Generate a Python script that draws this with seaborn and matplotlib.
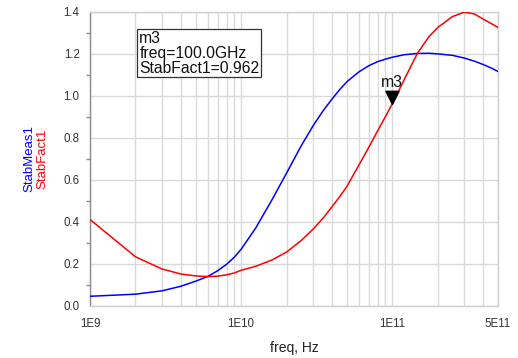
import matplotlib
matplotlib.use("Agg")
import matplotlib.pyplot as plt
from matplotlib.path import Path
from matplotlib.ticker import FixedLocator, LogLocator, NullFormatter, MultipleLocator
import numpy as np
import pandas as pd
import seaborn as sns

# Sweep frequencies (Hz) and stability results
freq = [1e9, 2e9, 3e9, 4e9, 5e9, 6e9, 7e9, 8e9, 9e9,
        1e10, 1.25e10, 1.6e10, 2e10, 2.5e10, 3e10, 3.5e10, 4e10, 4.5e10,
        5e10, 6e10, 7e10, 8e10, 9e10,
        1e11, 1.2e11, 1.46e11, 1.75e11, 2e11, 2.5e11, 3e11, 3.5e11, 4e11,
        4.5e11, 5e11]
stab_meas1 = [0.044, 0.054, 0.070, 0.092, 0.116, 0.138, 0.166, 0.196, 0.230,
              0.268, 0.370, 0.504, 0.632, 0.762, 0.858, 0.930, 0.985, 1.030,
              1.066, 1.113, 1.143, 1.162, 1.174,
              1.183, 1.195, 1.201, 1.202, 1.199, 1.192, 1.179, 1.164, 1.148,
              1.132, 1.115]
stab_fact1 = [0.410, 0.232, 0.174, 0.150, 0.141, 0.138, 0.140, 0.146, 0.155,
              0.168, 0.187, 0.217, 0.255, 0.310, 0.365, 0.418, 0.472, 0.520,
              0.567, 0.668, 0.755, 0.833, 0.900,
              0.962, 1.077, 1.200, 1.282, 1.325, 1.377, 1.398, 1.389, 1.364,
              1.344, 1.325]

# Marker m3
marker_name = "m3"
marker_freq = 1e11
marker_val = 0.962

x_ticks = [1e9, 1e10, 1e11, 5e11]
x_tick_labels = ["1E9", "1E10", "1E11", "5E11"]
y_ticks = [0.0, 0.2, 0.4, 0.6, 0.8, 1.0, 1.2, 1.4]

sns.set_style("white")
plt.rcParams["font.family"] = ["Liberation Sans", "DejaVu Sans"]

df = pd.DataFrame({"freq": freq, "StabMeas1": stab_meas1, "StabFact1": stab_fact1})

fig = plt.figure(figsize=(5.18, 3.58), dpi=100)
ax = fig.add_axes([0.1737, 0.1466, 0.9614 - 0.1737, 0.9673 - 0.1466])

sns.lineplot(data=df, x="freq", y="StabMeas1", color="#0000ff", lw=1.1, ax=ax, zorder=3)
sns.lineplot(data=df, x="freq", y="StabFact1", color="#ff0000", lw=1.1, ax=ax, zorder=3)

ax.set_xscale("log")
ax.set_xlim(1e9, 5e11)
ax.set_ylim(0, 1.4)

ax.xaxis.set_major_locator(FixedLocator(x_ticks))
ax.set_xticklabels(x_tick_labels)
ax.xaxis.set_minor_locator(LogLocator(base=10, subs=np.arange(2, 10)))
ax.xaxis.set_minor_formatter(NullFormatter())
ax.yaxis.set_major_locator(FixedLocator(y_ticks))
ax.set_yticklabels([f"{v:.1f}" for v in y_ticks])
ax.yaxis.set_minor_locator(MultipleLocator(0.1))

grid_c = "#d9d9d9"
ax.grid(True, which="major", axis="y", color=grid_c, lw=1.0, zorder=0)
ax.grid(True, which="both", axis="x", color=grid_c, lw=1.0, zorder=0)

ax.tick_params(axis="both", which="major", direction="out", length=6.5,
               width=1.0, color="#8c8c8c", labelsize=8.3, labelcolor="#333333")
ax.tick_params(axis="y", which="minor", direction="out", length=3, width=1.0,
               color="#8c8c8c", left=True)
ax.tick_params(axis="x", which="minor", length=0)
ax.tick_params(axis="x", which="major", pad=2.5)
ax.tick_params(axis="y", which="major", pad=1)

ax.spines["left"].set_color("#8c8c8c")
for s in ["top", "right", "bottom"]:
    ax.spines[s].set_color("#cfcfcf")
for s in ax.spines.values():
    s.set_linewidth(1.0)

ax.set_xlabel("freq, Hz", fontsize=10, color="#222222", labelpad=8)
ax.set_ylabel("")

# Stacked coloured y-axis labels
ax.text(-0.1495, 0.5, "StabMeas1", rotation=90, color="#0000ff", fontsize=9.5,
        ha="center", va="center", transform=ax.transAxes)
ax.text(-0.1176, 0.5, "StabFact1", rotation=90, color="#ff0000", fontsize=9.5,
        ha="center", va="center", transform=ax.transAxes)

# Downward-pointing marker triangle with its tip on the trace
tri = Path([(-0.55, 1.1), (0.55, 1.1), (0.0, 0.0), (-0.55, 1.1)],
           [Path.MOVETO, Path.LINETO, Path.LINETO, Path.CLOSEPOLY])
ax.plot([marker_freq], [marker_val], marker=tri, markersize=19, color="black",
        linestyle="none", zorder=5)
ax.annotate(marker_name, (marker_freq, marker_val), xytext=(0, 15),
            textcoords="offset points", ha="center", va="center",
            fontsize=11.3, color="#111111", zorder=6)

# Marker readout box
ax.text(0.121, 0.936,
        f"{marker_name}\nfreq={marker_freq / 1e9:.1f}GHz\nStabFact1={marker_val:.3f}",
        transform=ax.transAxes, ha="left", va="top", fontsize=11.3,
        linespacing=1.0, color="#111111", zorder=6,
        bbox=dict(boxstyle="square,pad=0.12", fc="white", ec="#333333", lw=0.9))

fig.savefig("out.png", dpi=100)
